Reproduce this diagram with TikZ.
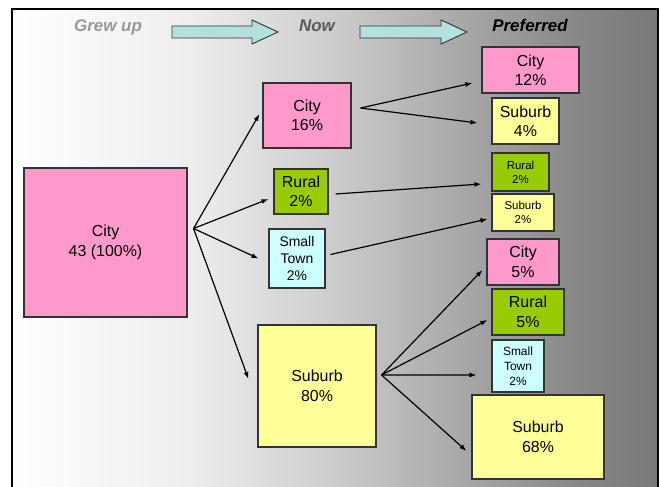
\documentclass[tikz,border=0pt]{standalone}
\usepackage{fontspec}
\setmainfont{Liberation Sans}
\usetikzlibrary{arrows.meta}

\definecolor{cityc}{RGB}{255,153,204}
\definecolor{suburbc}{RGB}{255,255,153}
\definecolor{ruralc}{RGB}{153,204,0}
\definecolor{townc}{RGB}{204,255,255}
\definecolor{headc}{RGB}{180,224,224}

% background: white on the left, dark grey on the right
\pgfdeclarehorizontalshading{bgshade}{100bp}{color(0bp)=(white); color(25bp)=(white);
  color(39bp)=(black!7); color(50bp)=(black!20); color(59bp)=(black!33);
  color(68bp)=(black!46); color(75bp)=(black!53); color(100bp)=(black!53)}

\begin{document}
\begin{tikzpicture}[x=1bp,y=-1bp,
  box/.style={draw=black!80,line width=1.1bp,align=center,inner sep=0pt,
    font=\fontsize{16}{19.5}\selectfont},
  smallbox/.style={box,font=\fontsize{12}{15}\selectfont},
  tinybox/.style={box,font=\fontsize{11.5}{14}\selectfont},
  head/.style={font=\fontsize{17}{20}\selectfont\bfseries\itshape,anchor=base},
  arr/.style={-{Latex[length=7bp,width=5bp]},line width=1.2bp},
  hdarrow/.style={draw=black!80,fill=headc,line width=0.9bp}]
\useasboundingbox (0,0) rectangle (661,487);
\shade[shading=bgshade] (12,9) rectangle (658,487);
\draw[line width=2.6bp] (12,487) -- (12,9) -- (658,9) -- (658,487);

% headings
\node[head,text=black!40] (hgrew) at (108,32) {Grew up};
\node[head,text=black!65] (hnow) at (317,32) {Now};
\node[head,text=black] (hpref) at (530,32) {Preferred};
\draw[hdarrow] (172,26) -- (252,26) -- (252,20) -- (278,32) -- (252,44) -- (252,38) -- (172,38) -- cycle;
\draw[hdarrow] (360,26) -- (441,26) -- (441,20) -- (467,32) -- (441,44) -- (441,38) -- (360,38) -- cycle;

% grew up
\node[box,fill=cityc,minimum width=163bp,minimum height=149bp] (c0) at (105.5,242.5) {City\\43 (100\%)};

% now
\node[box,fill=cityc,minimum width=88bp,minimum height=65bp] (n1) at (307,115.5) {City\\16\%};
\node[box,fill=ruralc,minimum width=54bp,minimum height=45bp] (n2) at (301,191.5) {Rural\\2\%};
\node[box,fill=townc,minimum width=56bp,minimum height=59bp,font=\fontsize{14}{17}\selectfont] (n3) at (297,258.5) {Small\\Town\\2\%};
\node[box,fill=suburbc,minimum width=118bp,minimum height=122bp] (n4) at (317,386) {Suburb\\80\%};

% preferred
\node[box,fill=cityc,minimum width=97bp,minimum height=46bp] (p1) at (530.5,70) {City\\12\%};
\node[box,fill=suburbc,minimum width=67bp,minimum height=46bp] (p2) at (525.5,121) {Suburb\\4\%};
\node[tinybox,fill=ruralc,minimum width=57bp,minimum height=38bp] (p3) at (520.5,172) {Rural\\2\%};
\node[tinybox,fill=suburbc,minimum width=62bp,minimum height=37bp] (p4) at (523,212.5) {Suburb\\2\%};
\node[box,fill=cityc,minimum width=72bp,minimum height=46bp] (p5) at (523,262) {City\\5\%};
\node[box,fill=ruralc,minimum width=72bp,minimum height=46bp] (p6) at (528,312) {Rural\\5\%};
\node[smallbox,fill=townc,minimum width=52bp,minimum height=52bp] (p7) at (518,366) {Small\\Town\\2\%};
\node[box,fill=suburbc,minimum width=132bp,minimum height=84bp] (p8) at (538,437) {Suburb\\68\%};

% fan points
\coordinate (f0) at ([xshift=6bp,yshift=14bp]c0.east);
\coordinate (f1) at ([xshift=9bp,yshift=7.5bp]n1.east);
\coordinate (f2) at ([xshift=7bp,yshift=-2.5bp]n2.east);
\coordinate (f3) at ([xshift=5bp,yshift=4bp]n3.east);
\coordinate (f4) at ([xshift=5bp,yshift=11bp]n4.east);

\draw[arr] (f0) -- ([xshift=-3bp,yshift=1.5bp]n1.west);
\draw[arr] (f0) -- ([xshift=-5bp,yshift=-7.5bp]n2.west);
\draw[arr] (f0) -- ([xshift=-10bp]n3.west);
\draw[arr] (f0) -- ([xshift=-9bp,yshift=7bp]n4.west);

\draw[arr] (f1) -- ([xshift=-9bp,yshift=-13bp]p1.west);
\draw[arr] (f1) -- ([xshift=-14bp,yshift=-2bp]p2.west);
\draw[arr] (f2) -- ([xshift=-10bp,yshift=-12bp]p3.west);
\draw[arr] (f3) -- ([xshift=-4bp,yshift=-6.5bp]p4.west);
\draw[arr] (f4) -- ([xshift=-4bp,yshift=-8bp]p5.west);
\draw[arr] (f4) -- ([xshift=-4bp,yshift=-8bp]p6.west);
\draw[arr] (f4) -- ([xshift=-15bp,yshift=-9bp]p7.west);
\draw[arr] (f4) -- ([xshift=-5bp,yshift=-14bp]p8.west);
\end{tikzpicture}
\end{document}
